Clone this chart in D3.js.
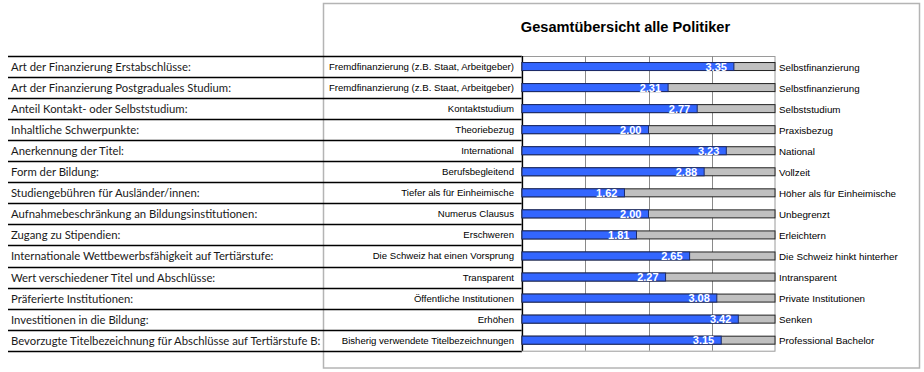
<!DOCTYPE html>
<html>
<head>
<meta charset="utf-8">
<script src="https://cdn.jsdelivr.net/npm/d3@7"></script>
<style>
	body{margin:0;background:#fff;}
	svg{display:block;}
</style>
</head>
<body>
<svg id="chart" width="924" height="372"></svg>
<script>
var svg;
const plot = {left: 522, right: 775, top: 56, bottom: 350.7};

const questions = [
	"Art der Finanzierung Erstabschlüsse:",
	"Art der Finanzierung Postgraduales Studium:",
	"Anteil Kontakt- oder Selbststudium:",
	"Inhaltliche Schwerpunkte:",
	"Anerkennung der Titel:",
	"Form der Bildung:",
	"Studiengebühren für Ausländer/innen:",
	"Aufnahmebeschränkung an Bildungsinstitutionen:",
	"Zugang zu Stipendien:",
	"Internationale Wettbewerbsfähigkeit auf Tertiärstufe:",
	"Wert verschiedener Titel und Abschlüsse:",
	"Präferierte Institutionen:",
	"Investitionen in die Bildung:",
	"Bevorzugte Titelbezeichnung für Abschlüsse auf Tertiärstufe B:"
];
const lowLabels = [
	"Fremdfinanzierung (z.B. Staat, Arbeitgeber)",
	"Fremdfinanzierung (z.B. Staat, Arbeitgeber)",
	"Kontaktstudium",
	"Theoriebezug",
	"International",
	"Berufsbegleitend",
	"Tiefer als für Einheimische",
	"Numerus Clausus",
	"Erschweren",
	"Die Schweiz hat einen Vorsprung",
	"Transparent",
	"Öffentliche Institutionen",
	"Erhöhen",
	"Bisherig verwendete Titelbezeichnungen"
];
const highLabels = [
	"Selbstfinanzierung",
	"Selbstfinanzierung",
	"Selbststudium",
	"Praxisbezug",
	"National",
	"Vollzeit",
	"Höher als für Einheimische",
	"Unbegrenzt",
	"Erleichtern",
	"Die Schweiz hinkt hinterher",
	"Intransparent",
	"Private Institutionen",
	"Senken",
	"Professional Bachelor"
];
const values = [3.35, 2.31, 2.77, 2.00, 3.23, 2.88, 1.62, 2.00, 1.81, 2.65, 2.27, 3.08, 3.42, 3.15];
const scaleMax = 4;
const gridTicks = [1, 2, 3];
const title = "Gesamtübersicht alle Politiker";

var x, rows, bars;

document.addEventListener("DOMContentLoaded", function(){
	svg = d3.select("#chart");
	var idx = d3.range(values.length);

	x = d3.scaleLinear()
		.domain([0, scaleMax])
		.range([plot.left, plot.right]);

	//one row per question, table lines sit on the row edges
	rows = d3.scaleBand()
		.domain(idx)
		.range([plot.top, plot.bottom]);

	bars = d3.scaleBand()
		.domain(idx)
		.range([plot.top, plot.bottom])
		.paddingInner(0.62)
		.paddingOuter(0.31);

	drawFrame();
	drawTables();
	drawGrid();
	drawBars();
});

function drawFrame(){
	svg.append("rect")
		.attr("x", 323.5)
		.attr("y", 3.5)
		.attr("width", 596)
		.attr("height", 364.5)
		.attr("fill", "none")
		.attr("stroke", "#b4b4b4")
		.attr("stroke-width", 1.5);

	svg.append("text")
		.attr("x", 625.5)
		.attr("y", 32)
		.attr("text-anchor", "middle")
		.style("font", "bold 14.6px 'Liberation Sans', Arial, sans-serif")
		.style("fill", "#000")
		.text(title);
}

function drawTables(){
	var edges = rows.domain().map(d => rows(d)).concat([plot.bottom]);

	//left table (question text)
	svg.selectAll(".leftLine")
		.data(edges)
		.enter()
		.append("line")
			.attr("class", "leftLine")
			.attr("x1", 8)
			.attr("x2", plot.left)
			.attr("y1", d => Math.round(d) + 0.5)
			.attr("y2", d => Math.round(d) + 0.5)
			.attr("stroke", "#000")
			.attr("stroke-width", 1.3);

	svg.selectAll(".question")
		.data(questions)
		.enter()
		.append("text")
			.attr("class", "question")
			.attr("x", 11)
			.attr("y", (d, i) => rows(i) + rows.bandwidth() / 2 + 4.5)
			.style("font", "11.3px Lato, 'Open Sans', sans-serif")
			.style("fill", "#1a1a1a")
			.text(d => d);

	//low end labels, right aligned against the plot
	svg.selectAll(".lowLabel")
		.data(lowLabels)
		.enter()
		.append("text")
			.attr("class", "lowLabel")
			.attr("x", plot.left - 8)
			.attr("y", (d, i) => rows(i) + rows.bandwidth() / 2 + 3.5)
			.attr("text-anchor", "end")
			.style("font", "9.6px 'Liberation Sans', Arial, sans-serif")
			.style("fill", "#000")
			.text(d => d);

	//high end labels right of the plot
	svg.selectAll(".highLabel")
		.data(highLabels)
		.enter()
		.append("text")
			.attr("class", "highLabel")
			.attr("x", plot.right + 4)
			.attr("y", (d, i) => rows(i) + rows.bandwidth() / 2 + 4)
			.style("font", "9.8px 'Liberation Sans', Arial, sans-serif")
			.style("fill", "#000")
			.text(d => d);
}

function drawGrid(){
	//plot border
	svg.append("rect")
		.attr("x", plot.left)
		.attr("y", plot.top + 0.5)
		.attr("width", plot.right - plot.left)
		.attr("height", plot.bottom - plot.top)
		.attr("fill", "none")
		.attr("stroke", "#9a9a9a")
		.attr("stroke-width", 1);

	svg.selectAll(".grid")
		.data(gridTicks)
		.enter()
		.append("line")
			.attr("class", "grid")
			.attr("x1", d => Math.round(x(d)) + 0.5)
			.attr("x2", d => Math.round(x(d)) + 0.5)
			.attr("y1", plot.top)
			.attr("y2", plot.bottom)
			.attr("stroke", "#8a8a8a")
			.attr("stroke-width", 1);

	//dark left edge of the plot
	svg.append("line")
		.attr("x1", plot.left + 0.5)
		.attr("x2", plot.left + 0.5)
		.attr("y1", plot.top)
		.attr("y2", plot.bottom)
		.attr("stroke", "#000")
		.attr("stroke-width", 1.3);
}

function drawBars(){
	//gray full range bar
	svg.selectAll(".track")
		.data(values)
		.enter()
		.append("rect")
			.attr("class", "track")
			.attr("x", x(0))
			.attr("y", (d, i) => bars(i))
			.attr("width", x(scaleMax) - x(0))
			.attr("height", bars.bandwidth())
			.attr("fill", "#c0c0c0")
			.attr("stroke", "#222")
			.attr("stroke-width", 1);

	//blue mean bar
	svg.selectAll(".bar")
		.data(values)
		.enter()
		.append("rect")
			.attr("class", "bar")
			.attr("x", x(0))
			.attr("y", (d, i) => bars(i))
			.attr("width", d => x(d) - x(0))
			.attr("height", bars.bandwidth())
			.attr("fill", "#3366ff")
			.attr("stroke", "#1c2a66")
			.attr("stroke-width", 1);

	svg.selectAll(".value")
		.data(values)
		.enter()
		.append("text")
			.attr("class", "value")
			.attr("x", d => x(d) - 7)
			.attr("y", (d, i) => bars(i) + bars.bandwidth() / 2 + 4)
			.attr("text-anchor", "end")
			.style("font", "bold 11px 'Liberation Sans', Arial, sans-serif")
			.style("fill", "#fff")
			.text(d => d.toFixed(2));
}
</script>
</body>
</html>
